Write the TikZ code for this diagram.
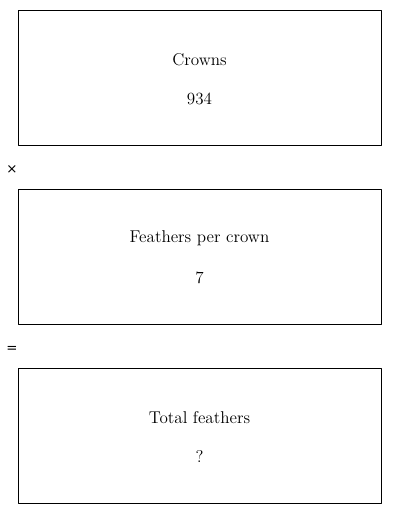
\documentclass[tikz,border=0pt]{standalone}
\usepackage{fontspec}
\newfontfamily\symfont{DejaVu Sans}
\usepackage{tikz}
\usetikzlibrary{positioning}

\begin{document}
\begin{tikzpicture}[x=0.75pt,y=-0.75pt,line join=round]
  \tikzset{factorbox/.style={draw,line width=0.75pt,minimum width=272.25pt,minimum height=101.25pt,inner sep=0pt},
    boxtext/.style={font=\fontsize{12.8}{15}\selectfont,inner sep=0pt},
    opsign/.style={font=\symfont\fontsize{10}{12}\selectfont,inner sep=0pt}}
  \useasboundingbox (0,0) rectangle (400,514);
  \node[factorbox] (crowns) at (199.5,77.5) {};
  \node[boxtext] (crownslabel) at (199.5,59.5) {Crowns};
  \node[boxtext] (crownsval) at (199.5,98.5) {934};
  \node[opsign] (times) at (12,170) {×};
  \node[factorbox] (perc) at (199.5,256.5) {};
  \node[boxtext] (perclabel) at (199.5,238.5) {Feathers per crown};
  \node[boxtext] (percval) at (199.5,277.5) {7};
  \node[opsign] (equals) at (12,349) {=};
  \node[factorbox] (total) at (199.5,435.5) {};
  \node[boxtext] (totallabel) at (199.5,417.5) {Total feathers};
  \node[boxtext] (totalval) at (199.5,456.5) {?};
\end{tikzpicture}
\end{document}
